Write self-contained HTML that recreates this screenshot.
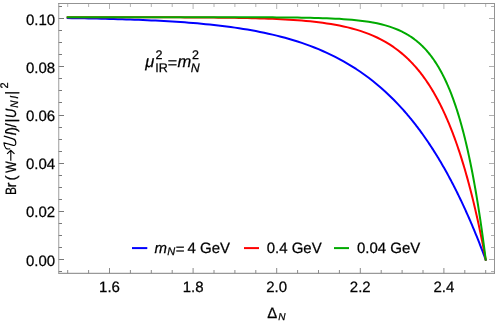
<!DOCTYPE html>
<html><head><meta charset="utf-8"><title>plot</title>
<style>
html,body{margin:0;padding:0;background:#fff;}
body{width:498px;height:323px;overflow:hidden;}
svg{display:block;will-change:transform;}
svg{text-rendering:geometricPrecision;}
text{font-family:"Liberation Sans",sans-serif;font-size:15px;fill:#000;stroke:#000;stroke-width:0.25px;}
.i{font-style:italic;}
</style></head><body>
<svg width="498" height="323" viewBox="0 0 498 323">
<rect x="0" y="0" width="498" height="323" fill="#fff"/>
<g fill="none" stroke-width="2" stroke-linejoin="round" stroke-linecap="square">
<path d="M67.70,18.10 L71.88,18.16 L76.06,18.23 L80.24,18.29 L84.42,18.37 L88.60,18.44 L92.78,18.53 L96.96,18.61 L101.14,18.71 L105.32,18.80 L109.50,18.91 L113.68,19.02 L117.86,19.14 L122.04,19.26 L126.22,19.40 L130.40,19.54 L134.58,19.69 L138.76,19.84 L142.94,20.01 L147.12,20.19 L151.30,20.38 L155.48,20.58 L159.66,20.79 L163.84,21.02 L168.02,21.25 L172.20,21.51 L176.38,21.77 L180.56,22.06 L184.74,22.36 L188.92,22.67 L193.10,23.01 L197.28,23.36 L201.46,23.74 L205.64,24.14 L209.82,24.56 L214.00,25.00 L218.18,25.47 L222.36,25.97 L226.54,26.49 L230.72,27.05 L234.90,27.63 L239.08,28.25 L243.26,28.91 L247.44,29.60 L251.62,30.32 L255.80,31.09 L259.98,31.90 L264.16,32.76 L268.34,33.66 L272.52,34.62 L276.70,35.62 L280.88,36.68 L285.06,37.80 L289.24,38.98 L293.42,40.22 L297.60,41.52 L301.78,42.90 L305.96,44.35 L310.14,45.88 L314.32,47.49 L318.50,49.18 L322.68,50.96 L326.86,52.83 L331.04,54.81 L335.22,56.88 L339.40,59.06 L343.58,61.36 L347.76,63.77 L351.94,66.30 L356.12,68.96 L360.30,71.76 L364.48,74.70 L368.66,77.78 L372.84,81.02 L377.02,84.42 L381.20,87.99 L385.38,91.74 L389.56,95.67 L393.74,99.79 L397.92,104.11 L402.10,108.64 L402.80,109.41 L403.49,110.20 L404.19,110.98 L404.89,111.78 L405.58,112.58 L406.28,113.39 L406.98,114.20 L407.67,115.02 L408.37,115.85 L409.07,116.68 L409.76,117.52 L410.46,118.36 L411.16,119.21 L411.85,120.07 L412.55,120.94 L413.25,121.81 L413.94,122.69 L414.64,123.57 L415.34,124.47 L416.03,125.37 L416.73,126.27 L417.43,127.19 L418.12,128.11 L418.82,129.04 L419.52,129.97 L420.21,130.91 L420.91,131.86 L421.61,132.82 L422.30,133.78 L423.00,134.75 L423.70,135.73 L424.39,136.72 L425.09,137.71 L425.79,138.71 L426.48,139.72 L427.18,140.74 L427.88,141.76 L428.57,142.80 L429.27,143.84 L429.97,144.89 L430.66,145.94 L431.36,147.01 L432.06,148.08 L432.75,149.16 L433.45,150.25 L434.15,151.35 L434.84,152.45 L435.54,153.56 L436.24,154.69 L436.93,155.82 L437.63,156.96 L438.33,158.10 L439.02,159.26 L439.72,160.43 L440.42,161.60 L441.11,162.78 L441.81,163.97 L442.51,165.17 L443.20,166.38 L443.90,167.60 L444.60,168.83 L445.29,170.07 L445.99,171.31 L446.69,172.57 L447.38,173.83 L448.08,175.11 L448.78,176.39 L449.47,177.68 L450.17,178.99 L450.87,180.30 L451.56,181.62 L452.26,182.95 L452.96,184.29 L453.65,185.65 L454.35,187.01 L455.05,188.38 L455.74,189.76 L456.44,191.15 L457.14,192.55 L457.83,193.97 L458.53,195.39 L459.23,196.82 L459.92,198.27 L460.62,199.72 L461.32,201.19 L462.01,202.66 L462.71,204.15 L463.41,205.65 L464.10,207.15 L464.80,208.67 L465.50,210.20 L466.19,211.74 L466.89,213.30 L467.59,214.86 L468.28,216.44 L468.98,218.02 L469.68,219.62 L470.37,221.23 L471.07,222.85 L471.77,224.48 L472.46,226.13 L473.16,227.78 L473.86,229.45 L474.55,231.13 L475.25,232.82 L475.95,234.53 L476.64,236.24 L477.34,237.97 L478.04,239.71 L478.73,241.47 L479.43,243.23 L480.13,245.01 L480.82,246.80 L481.52,248.61 L482.22,250.42 L482.91,252.25 L483.61,254.09 L484.31,255.95 L485.00,257.82 L485.70,259.70" stroke="#0000ff"/>
<path d="M67.70,17.21 L71.88,17.21 L76.06,17.21 L80.24,17.21 L84.42,17.22 L88.60,17.22 L92.78,17.22 L96.96,17.22 L101.14,17.22 L105.32,17.23 L109.50,17.23 L113.68,17.23 L117.86,17.24 L122.04,17.24 L126.22,17.24 L130.40,17.25 L134.58,17.25 L138.76,17.26 L142.94,17.27 L147.12,17.27 L151.30,17.28 L155.48,17.29 L159.66,17.30 L163.84,17.31 L168.02,17.32 L172.20,17.34 L176.38,17.35 L180.56,17.37 L184.74,17.39 L188.92,17.41 L193.10,17.43 L197.28,17.46 L201.46,17.49 L205.64,17.52 L209.82,17.55 L214.00,17.59 L218.18,17.64 L222.36,17.68 L226.54,17.74 L230.72,17.80 L234.90,17.86 L239.08,17.93 L243.26,18.01 L247.44,18.10 L251.62,18.20 L255.80,18.31 L259.98,18.43 L264.16,18.56 L268.34,18.70 L272.52,18.87 L276.70,19.04 L280.88,19.24 L285.06,19.46 L289.24,19.70 L293.42,19.97 L297.60,20.27 L301.78,20.59 L305.96,20.95 L310.14,21.35 L314.32,21.79 L318.50,22.27 L322.68,22.81 L326.86,23.40 L331.04,24.05 L335.22,24.77 L339.40,25.56 L343.58,26.43 L347.76,27.40 L351.94,28.46 L356.12,29.63 L360.30,30.91 L364.48,32.33 L368.66,33.90 L372.84,35.62 L377.02,37.51 L381.20,39.60 L385.38,41.90 L389.56,44.42 L393.74,47.20 L397.92,50.26 L402.10,53.62 L402.80,54.21 L403.49,54.82 L404.19,55.43 L404.89,56.05 L405.58,56.68 L406.28,57.32 L406.98,57.97 L407.67,58.63 L408.37,59.30 L409.07,59.98 L409.76,60.68 L410.46,61.38 L411.16,62.10 L411.85,62.82 L412.55,63.56 L413.25,64.31 L413.94,65.07 L414.64,65.85 L415.34,66.63 L416.03,67.43 L416.73,68.24 L417.43,69.07 L418.12,69.90 L418.82,70.75 L419.52,71.62 L420.21,72.49 L420.91,73.38 L421.61,74.29 L422.30,75.21 L423.00,76.14 L423.70,77.09 L424.39,78.05 L425.09,79.03 L425.79,80.03 L426.48,81.04 L427.18,82.06 L427.88,83.10 L428.57,84.16 L429.27,85.24 L429.97,86.33 L430.66,87.44 L431.36,88.56 L432.06,89.71 L432.75,90.87 L433.45,92.05 L434.15,93.24 L434.84,94.46 L435.54,95.70 L436.24,96.95 L436.93,98.23 L437.63,99.52 L438.33,100.84 L439.02,102.17 L439.72,103.53 L440.42,104.91 L441.11,106.31 L441.81,107.73 L442.51,109.17 L443.20,110.64 L443.90,112.13 L444.60,113.64 L445.29,115.17 L445.99,116.73 L446.69,118.32 L447.38,119.92 L448.08,121.56 L448.78,123.22 L449.47,124.90 L450.17,126.61 L450.87,128.35 L451.56,130.11 L452.26,131.90 L452.96,133.72 L453.65,135.57 L454.35,137.44 L455.05,139.35 L455.74,141.28 L456.44,143.25 L457.14,145.24 L457.83,147.27 L458.53,149.32 L459.23,151.41 L459.92,153.53 L460.62,155.68 L461.32,157.87 L462.01,160.09 L462.71,162.35 L463.41,164.63 L464.10,166.96 L464.80,169.32 L465.50,171.71 L466.19,174.15 L466.89,176.62 L467.59,179.13 L468.28,181.67 L468.98,184.26 L469.68,186.89 L470.37,189.55 L471.07,192.26 L471.77,195.01 L472.46,197.80 L473.16,200.63 L473.86,203.51 L474.55,206.43 L475.25,209.39 L475.95,212.40 L476.64,215.46 L477.34,218.56 L478.04,221.71 L478.73,224.91 L479.43,228.16 L480.13,231.45 L480.82,234.80 L481.52,238.20 L482.22,241.65 L482.91,245.15 L483.61,248.71 L484.31,252.32 L485.00,255.98 L485.70,259.70" stroke="#ff0000"/>
<path d="M67.70,17.20 L71.88,17.20 L76.06,17.20 L80.24,17.20 L84.42,17.20 L88.60,17.20 L92.78,17.20 L96.96,17.20 L101.14,17.20 L105.32,17.20 L109.50,17.20 L113.68,17.20 L117.86,17.20 L122.04,17.20 L126.22,17.20 L130.40,17.20 L134.58,17.20 L138.76,17.20 L142.94,17.20 L147.12,17.20 L151.30,17.20 L155.48,17.20 L159.66,17.20 L163.84,17.20 L168.02,17.21 L172.20,17.21 L176.38,17.21 L180.56,17.21 L184.74,17.21 L188.92,17.21 L193.10,17.21 L197.28,17.21 L201.46,17.21 L205.64,17.22 L209.82,17.22 L214.00,17.22 L218.18,17.22 L222.36,17.23 L226.54,17.23 L230.72,17.24 L234.90,17.24 L239.08,17.25 L243.26,17.26 L247.44,17.27 L251.62,17.28 L255.80,17.29 L259.98,17.30 L264.16,17.32 L268.34,17.34 L272.52,17.36 L276.70,17.39 L280.88,17.42 L285.06,17.45 L289.24,17.49 L293.42,17.53 L297.60,17.59 L301.78,17.65 L305.96,17.72 L310.14,17.80 L314.32,17.90 L318.50,18.01 L322.68,18.13 L326.86,18.28 L331.04,18.45 L335.22,18.64 L339.40,18.87 L343.58,19.13 L347.76,19.43 L351.94,19.78 L356.12,20.18 L360.30,20.65 L364.48,21.18 L368.66,21.80 L372.84,22.51 L377.02,23.34 L381.20,24.28 L385.38,25.38 L389.56,26.64 L393.74,28.09 L397.92,29.77 L402.10,31.70 L402.80,32.05 L403.49,32.41 L404.19,32.77 L404.89,33.15 L405.58,33.53 L406.28,33.92 L406.98,34.33 L407.67,34.74 L408.37,35.16 L409.07,35.59 L409.76,36.03 L410.46,36.49 L411.16,36.95 L411.85,37.42 L412.55,37.91 L413.25,38.41 L413.94,38.92 L414.64,39.44 L415.34,39.97 L416.03,40.52 L416.73,41.07 L417.43,41.65 L418.12,42.23 L418.82,42.83 L419.52,43.45 L420.21,44.08 L420.91,44.72 L421.61,45.38 L422.30,46.05 L423.00,46.74 L423.70,47.45 L424.39,48.17 L425.09,48.91 L425.79,49.67 L426.48,50.45 L427.18,51.24 L427.88,52.05 L428.57,52.89 L429.27,53.74 L429.97,54.61 L430.66,55.50 L431.36,56.42 L432.06,57.35 L432.75,58.31 L433.45,59.29 L434.15,60.29 L434.84,61.32 L435.54,62.37 L436.24,63.45 L436.93,64.55 L437.63,65.68 L438.33,66.83 L439.02,68.01 L439.72,69.22 L440.42,70.46 L441.11,71.72 L441.81,73.02 L442.51,74.35 L443.20,75.71 L443.90,77.10 L444.60,78.52 L445.29,79.97 L445.99,81.46 L446.69,82.99 L447.38,84.55 L448.08,86.15 L448.78,87.78 L449.47,89.46 L450.17,91.17 L450.87,92.92 L451.56,94.72 L452.26,96.56 L452.96,98.43 L453.65,100.36 L454.35,102.33 L455.05,104.34 L455.74,106.40 L456.44,108.51 L457.14,110.67 L457.83,112.88 L458.53,115.14 L459.23,117.46 L459.92,119.83 L460.62,122.25 L461.32,124.73 L462.01,127.27 L462.71,129.87 L463.41,132.53 L464.10,135.25 L464.80,138.03 L465.50,140.88 L466.19,143.80 L466.89,146.78 L467.59,149.83 L468.28,152.96 L468.98,156.15 L469.68,159.43 L470.37,162.77 L471.07,166.20 L471.77,169.70 L472.46,173.29 L473.16,176.96 L473.86,180.72 L474.55,184.56 L475.25,188.49 L475.95,192.52 L476.64,196.63 L477.34,200.84 L478.04,205.15 L478.73,209.57 L479.43,214.08 L480.13,218.69 L480.82,223.42 L481.52,228.25 L482.22,233.20 L482.91,238.26 L483.61,243.44 L484.31,248.73 L485.00,254.15 L485.70,259.70" stroke="#00aa00"/>
</g>
<g fill="none" stroke-width="1"><path d="M67.70,273.3 v-3.3 M88.60,273.3 v-3.3 M109.50,273.3 v-5.3 M130.40,273.3 v-3.3 M151.30,273.3 v-3.3 M172.20,273.3 v-3.3 M193.10,273.3 v-5.3 M214.00,273.3 v-3.3 M234.90,273.3 v-3.3 M255.80,273.3 v-3.3 M276.70,273.3 v-5.3 M297.60,273.3 v-3.3 M318.50,273.3 v-3.3 M339.40,273.3 v-3.3 M360.30,273.3 v-5.3 M381.20,273.3 v-3.3 M402.10,273.3 v-3.3 M423.00,273.3 v-3.3 M443.90,273.3 v-5.3 M464.80,273.3 v-3.3 M485.70,273.3 v-3.3" stroke="#8a8a8a"/><path d="M67.70,3.5 v3.5 M88.60,3.5 v3.5 M109.50,3.5 v5.5 M130.40,3.5 v3.5 M151.30,3.5 v3.5 M172.20,3.5 v3.5 M193.10,3.5 v5.5 M214.00,3.5 v3.5 M234.90,3.5 v3.5 M255.80,3.5 v3.5 M276.70,3.5 v5.5 M297.60,3.5 v3.5 M318.50,3.5 v3.5 M339.40,3.5 v3.5 M360.30,3.5 v5.5 M381.20,3.5 v3.5 M402.10,3.5 v3.5 M423.00,3.5 v3.5 M443.90,3.5 v5.5 M464.80,3.5 v3.5 M485.70,3.5 v3.5" stroke="#b4b4b4"/><path d="M58.5,271.50 h3.5 M58.5,259.50 h5.5 M58.5,247.50 h3.5 M58.5,235.50 h3.5 M58.5,223.50 h3.5 M58.5,211.50 h5.5 M58.5,199.50 h3.5 M58.5,187.50 h3.5 M58.5,175.50 h3.5 M58.5,163.50 h5.5 M58.5,151.50 h3.5 M58.5,139.50 h3.5 M58.5,127.50 h3.5 M58.5,115.50 h5.5 M58.5,102.50 h3.5 M58.5,90.50 h3.5 M58.5,78.50 h3.5 M58.5,66.50 h5.5 M58.5,54.50 h3.5 M58.5,42.50 h3.5 M58.5,30.50 h3.5 M58.5,18.50 h5.5 M58.5,6.50 h3.5" stroke="#787878"/><path d="M494.5,271.50 h-3.5 M494.5,259.50 h-5.5 M494.5,247.50 h-3.5 M494.5,235.50 h-3.5 M494.5,223.50 h-3.5 M494.5,211.50 h-5.5 M494.5,199.50 h-3.5 M494.5,187.50 h-3.5 M494.5,175.50 h-3.5 M494.5,163.50 h-5.5 M494.5,151.50 h-3.5 M494.5,139.50 h-3.5 M494.5,127.50 h-3.5 M494.5,115.50 h-5.5 M494.5,102.50 h-3.5 M494.5,90.50 h-3.5 M494.5,78.50 h-3.5 M494.5,66.50 h-5.5 M494.5,54.50 h-3.5 M494.5,42.50 h-3.5 M494.5,30.50 h-3.5 M494.5,18.50 h-5.5 M494.5,6.50 h-3.5" stroke="#b0b0b0"/></g>
<g fill="none" stroke-width="1"><path d="M58.0,3.5 H495.0 M494.5,3.5 V273.3" stroke="#939393"/><path d="M58.75,3.5 V273.3" stroke="#9c9c9c"/><path d="M58.25,273.3 H495.0" stroke="#808080"/></g>
<g>
<text x="109.50" y="291.8" text-anchor="middle">1.6</text>
<text x="193.10" y="291.8" text-anchor="middle">1.8</text>
<text x="276.70" y="291.8" text-anchor="middle">2.0</text>
<text x="360.30" y="291.8" text-anchor="middle">2.2</text>
<text x="443.90" y="291.8" text-anchor="middle">2.4</text>
<text x="55.2" y="265.60" text-anchor="end">0.00</text>
<text x="55.2" y="217.38" text-anchor="end">0.02</text>
<text x="55.2" y="169.16" text-anchor="end">0.04</text>
<text x="55.2" y="120.94" text-anchor="end">0.06</text>
<text x="55.2" y="72.72" text-anchor="end">0.08</text>
<text x="55.2" y="24.50" text-anchor="end">0.10</text>
</g>
<!-- x axis label -->
<text x="267.2" y="317.6">Δ</text>
<text x="278.3" y="319.9" class="i" style="font-size:10px">N</text>
<!-- annotation -->
<g>
<text x="145.2" y="67.3" class="i" style="font-size:16.5px">μ</text>
<text x="155.4" y="59.3" style="font-size:12.5px">2</text>
<text x="155.3" y="72.1" style="font-size:12.5px">IR</text>
<text x="167.8" y="67.6" style="font-size:16px">=</text>
<text x="177.5" y="67.3" class="i" style="font-size:16.5px">m</text>
<text x="191.9" y="59.3" style="font-size:12.5px">2</text>
<text x="190.7" y="71.9" class="i" style="font-size:12.3px">N</text>
</g>
<!-- legend -->
<g stroke-width="2" fill="none">
<path d="M132,248.1 H147.3" stroke="#0000ff"/>
<path d="M244,248.1 H259" stroke="#ff0000"/>
<path d="M334,248.1 H349" stroke="#00aa00"/>
</g>
<text x="154.6" y="252.8" class="i">m</text>
<text x="167.3" y="255.2" class="i" style="font-size:11px">N</text>
<text x="175.8" y="253.5">=</text>
<text x="187.6" y="252.8">4 GeV</text>
<text x="266.7" y="252.8">0.4 GeV</text>
<text x="357" y="252.8">0.04 GeV</text>
<!-- y axis label -->
<g transform="translate(15.5,195.3) rotate(-90)">
<text x="0.2" y="0" textLength="8" lengthAdjust="spacingAndGlyphs">B</text>
<text x="7.8" y="0">r</text>
<text x="14.9" y="0">(</text>
<text x="22.6" y="0" textLength="11.4" lengthAdjust="spacingAndGlyphs">W</text>
<path d="M34.5,-4.7 H44.7 M41.4,-8.4 L44.9,-4.7 L41.4,-1" fill="none" stroke="#000" stroke-width="1.15"/>
<path d="M46.4,-5.8 C46.2,-7.6 46.4,-8.8 47.1,-9.6 C48.3,-10.8 50.3,-11.4 52.5,-11.6 L49.9,-2.2 C49.6,-0.4 50.6,0.3 52.2,0.3 C54.4,0.3 55.9,-0.6 56.4,-2.4 L59.2,-11.3" fill="none" stroke="#000" stroke-width="1.15" stroke-linecap="round" stroke-linejoin="round"/>
<text x="60.0" y="0" class="i">l</text>
<text x="63.3" y="0">)</text>
<text x="67.9" y="0">/</text>
<text x="72.9" y="0">|</text>
<text x="77.4" y="0" class="i" textLength="9.2" lengthAdjust="spacingAndGlyphs">U</text>
<text x="87.6" y="2.4" class="i" style="font-size:11px" textLength="7.2" lengthAdjust="spacingAndGlyphs">N</text>
<text x="96.9" y="2.4" class="i" style="font-size:11px">l</text>
<text x="100.5" y="0">|</text>
<text x="106.9" y="-7.6" style="font-size:11px">2</text>
</g>
</svg>
</body></html>
